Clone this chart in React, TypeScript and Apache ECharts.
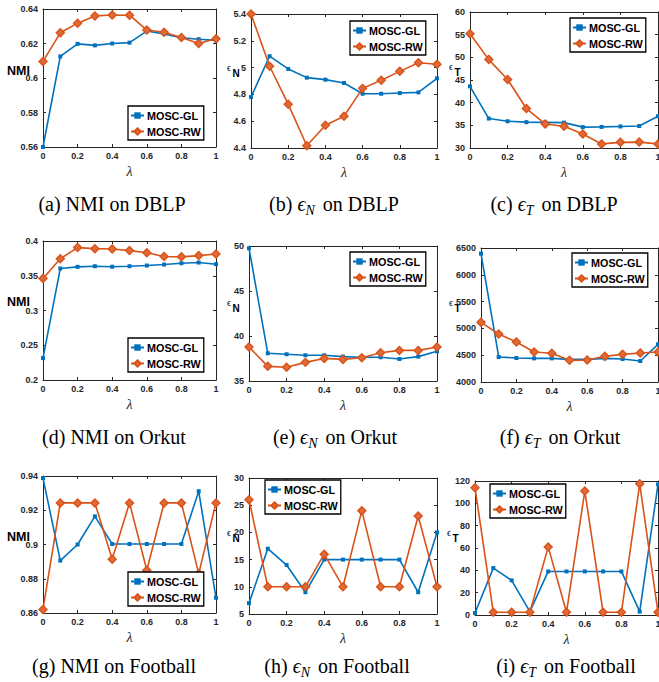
import React, { useEffect, useRef } from 'react';
import * as echarts from 'echarts';

const lambda = [0, 0.1, 0.2, 0.3, 0.4, 0.5, 0.6, 0.7, 0.8, 0.9, 1];

const nmiDblpGL = [0.56, 0.6125, 0.6198, 0.6189, 0.62, 0.6205, 0.6272, 0.6255, 0.6233, 0.6225, 0.6218];
const nmiDblpRW = [0.6096, 0.6262, 0.6318, 0.636, 0.6365, 0.6364, 0.6278, 0.6265, 0.6235, 0.62, 0.6228];

const enDblpGL = [4.78, 5.085, 4.99, 4.925, 4.91, 4.885, 4.805, 4.805, 4.81, 4.815, 4.92];
const enDblpRW = [5.4, 5.01, 4.727, 4.417, 4.57, 4.637, 4.845, 4.905, 4.972, 5.036, 5.025];

const etDblpGL = [43.6, 36.5, 35.9, 35.7, 35.65, 35.6, 34.6, 34.65, 34.75, 34.85, 37.0];
const etDblpRW = [55.2, 49.5, 45.1, 38.7, 35.3, 34.8, 33.1, 30.9, 31.25, 31.3, 30.9];

const nmiOrkutGL = [0.2315, 0.3605, 0.3628, 0.3637, 0.363, 0.3637, 0.3647, 0.3661, 0.368, 0.369, 0.3666];
const nmiOrkutRW = [0.346, 0.3745, 0.3905, 0.389, 0.3885, 0.3862, 0.383, 0.3778, 0.3772, 0.379, 0.3812];

const enOrkutGL = [49.75, 38.08, 37.97, 37.86, 37.86, 37.71, 37.64, 37.64, 37.45, 37.71, 38.3];
const enOrkutRW = [38.78, 36.63, 36.52, 37.07, 37.51, 37.4, 37.59, 38.14, 38.4, 38.4, 38.77];

const etOrkutGL = [6395, 4467, 4448, 4441, 4441, 4423, 4423, 4441, 4429, 4392, 4703];
const etOrkutRW = [5113, 4896, 4746, 4560, 4535, 4404, 4410, 4479, 4516, 4541, 4560];

const nmiFootGL = [0.9388, 0.8906, 0.9, 0.9164, 0.9003, 0.9003, 0.9003, 0.9003, 0.9003, 0.9311, 0.8689];
const nmiFootRW = [0.8621, 0.9243, 0.9243, 0.9243, 0.8914, 0.9243, 0.885, 0.9243, 0.9243, 0.883, 0.9243];

const enFootGL = [7, 17, 14, 9, 15, 15, 15, 15, 15, 9, 20];
const enFootRW = [26, 10, 10, 10, 16, 10, 24, 10, 10, 23, 10];

const etFootGL = [1.8, 42, 31, 3, 39, 39, 39, 39, 39, 3, 117];
const etFootRW = [114, 2.4, 2.4, 2.4, 61, 2.4, 111, 2.4, 2.4, 117.5, 2.4];

const seriesNames = ['MOSC-GL', 'MOSC-RW'];

const BLUE = '#0072BD';
const ORANGE = '#D95319';
const AX = '#262626';
const SANS = '"Liberation Sans", Arial, Helvetica, sans-serif';
const SERIF = '"Liberation Serif", "Times New Roman", serif';

type Panel = {
  grid: { left: number; top: number; width: number; height: number };
  min: number;
  max: number;
  interval: number;
  gl: number[];
  rw: number[];
  yKind: 'NMI' | 'N' | 'T';
  nameX: number;
  nameY: number;
  legend: { left: number; top: number };
  letter: string;
  dataset: string;
  capX: number;
  capY: number;
};

const panels: Panel[] = [
  { grid: { left: 43, top: 9, width: 173, height: 138 }, min: 0.56, max: 0.64, interval: 0.02, gl: nmiDblpGL, rw: nmiDblpRW, yKind: 'NMI', nameX: 30, nameY: 71, legend: { left: 128, top: 106 }, letter: 'a', dataset: 'DBLP', capX: 112, capY: 204 },
  { grid: { left: 251, top: 14, width: 186, height: 134 }, min: 4.4, max: 5.4, interval: 0.2, gl: enDblpGL, rw: enDblpRW, yKind: 'N', nameX: 227, nameY: 67, legend: { left: 350, top: 21 }, letter: 'b', dataset: 'DBLP', capX: 334, capY: 204 },
  { grid: { left: 470, top: 12, width: 188, height: 136 }, min: 30, max: 60, interval: 5, gl: etDblpGL, rw: etDblpRW, yKind: 'T', nameX: 449, nameY: 66, legend: { left: 570, top: 18 }, letter: 'c', dataset: 'DBLP', capX: 554, capY: 204 },
  { grid: { left: 43, top: 241, width: 173, height: 139 }, min: 0.2, max: 0.4, interval: 0.05, gl: nmiOrkutGL, rw: nmiOrkutRW, yKind: 'NMI', nameX: 30, nameY: 302, legend: { left: 128, top: 338 }, letter: 'd', dataset: 'Orkut', capX: 114, capY: 437 },
  { grid: { left: 249, top: 246, width: 188, height: 135 }, min: 35, max: 50, interval: 5, gl: enOrkutGL, rw: enOrkutRW, yKind: 'N', nameX: 227, nameY: 302, legend: { left: 350, top: 252 }, letter: 'e', dataset: 'Orkut', capX: 335, capY: 437 },
  { grid: { left: 481, top: 248, width: 177, height: 134 }, min: 4000, max: 6500, interval: 500, gl: etOrkutGL, rw: etOrkutRW, yKind: 'T', nameX: 449, nameY: 302, legend: { left: 572, top: 253 }, letter: 'f', dataset: 'Orkut', capX: 560, capY: 437 },
  { grid: { left: 43, top: 476, width: 173, height: 137 }, min: 0.86, max: 0.94, interval: 0.02, gl: nmiFootGL, rw: nmiFootRW, yKind: 'NMI', nameX: 30, nameY: 537, legend: { left: 128, top: 572 }, letter: 'g', dataset: 'Football', capX: 114, capY: 666 },
  { grid: { left: 249, top: 478, width: 188, height: 136 }, min: 5, max: 30, interval: 5, gl: enFootGL, rw: enFootRW, yKind: 'N', nameX: 227, nameY: 532, legend: { left: 265, top: 480 }, letter: 'h', dataset: 'Football', capX: 337, capY: 666 },
  { grid: { left: 475, top: 481, width: 183, height: 134 }, min: 0, max: 120, interval: 20, gl: etFootGL, rw: etFootRW, yKind: 'T', nameX: 447, nameY: 532, legend: { left: 490, top: 484 }, letter: 'i', dataset: 'Football', capX: 566, capY: 666 },
];

const fmt = (v: number) => String(parseFloat(Number(v).toFixed(4)));

function buildOption() {
  const grid: any[] = [];
  const xAxis: any[] = [];
  const yAxis: any[] = [];
  const series: any[] = [];
  const legend: any[] = [];
  const graphic: any[] = [];

  panels.forEach((p, i) => {
    grid.push({ ...p.grid, containLabel: false, outerBoundsMode: 'none', show: false });
    const tick = { show: true, inside: true, length: 3, lineStyle: { color: AX, width: 1 } };
    const line = { show: true, onZero: false, lineStyle: { color: AX, width: 1 } };
    const label = { show: true, color: AX, fontSize: 9, fontWeight: 'bold', fontFamily: SANS, formatter: fmt };
    xAxis.push({
      type: 'value', gridIndex: i, position: 'bottom', min: 0, max: 1, interval: 0.2,
      axisLine: line, axisTick: tick, splitLine: { show: false },
      axisLabel: { ...label, margin: 4 },
      name: 'λ', nameLocation: 'middle', nameGap: 17,
      nameTextStyle: { color: AX, fontFamily: SERIF, fontSize: 14, fontStyle: 'italic' },
    });
    xAxis.push({
      type: 'value', gridIndex: i, position: 'top', min: 0, max: 1, interval: 0.2,
      axisLine: line, axisTick: tick, splitLine: { show: false }, axisLabel: { show: false },
    });
    yAxis.push({
      type: 'value', gridIndex: i, position: 'left', min: p.min, max: p.max, interval: p.interval,
      axisLine: line, axisTick: tick, splitLine: { show: false },
      axisLabel: { ...label, margin: 5 },
    });
    yAxis.push({
      type: 'value', gridIndex: i, position: 'right', min: p.min, max: p.max, interval: p.interval,
      axisLine: line, axisTick: tick, splitLine: { show: false }, axisLabel: { show: false },
    });
    series.push({
      type: 'line', name: seriesNames[0], xAxisIndex: 2 * i, yAxisIndex: 2 * i,
      data: lambda.map((x, j) => [x, p.gl[j]]),
      symbol: 'rect', symbolSize: 4,
      lineStyle: { color: BLUE, width: 1.6 }, itemStyle: { color: BLUE },
      clip: false, z: 2,
    });
    series.push({
      type: 'line', name: seriesNames[1], xAxisIndex: 2 * i, yAxisIndex: 2 * i,
      data: lambda.map((x, j) => [x, p.rw[j]]),
      symbol: 'diamond', symbolSize: 8,
      lineStyle: { color: ORANGE, width: 1.6 },
      itemStyle: { color: '#E06A38', borderColor: ORANGE, borderWidth: 1.4 },
      clip: false, z: 3,
    });
    legend.push({
      show: true, left: p.legend.left, top: p.legend.top, orient: 'vertical',
      data: seriesNames, backgroundColor: '#fff', borderColor: '#000', borderWidth: 1.3,
      padding: [4, 3, 3, 2], itemGap: 5, itemWidth: 13, itemHeight: 8, borderRadius: 0,
      textStyle: { color: '#000', fontSize: 10.8, fontWeight: 'bold', fontFamily: SANS, padding: [0, 0, 0, -2] },
      selectedMode: false, z: 10,
    });

    if (p.yKind === 'NMI') {
      graphic.push({
        type: 'text', x: p.nameX, y: p.nameY,
        style: { text: 'NMI', align: 'right', verticalAlign: 'middle', fill: '#000', fontSize: 12.5, fontWeight: 'bold', fontFamily: SANS },
      });
    } else {
      graphic.push({
        type: 'text', x: p.nameX, y: p.nameY,
        style: { text: 'ϵ', align: 'left', verticalAlign: 'middle', fill: '#000', fontSize: 10, fontFamily: SERIF },
      });
      graphic.push({
        type: 'text', x: p.nameX + 5.5, y: p.nameY + 6.5,
        style: { text: p.yKind, align: 'left', verticalAlign: 'middle', fill: '#000', fontSize: 10, fontWeight: 'bold', fontFamily: SANS },
      });
    }

    const capText = p.yKind === 'NMI'
      ? `{t|(${p.letter}) NMI on ${p.dataset}}`
      : `{t|(${p.letter}) }{e|ϵ}{s|${p.yKind}}{t| on ${p.dataset}}`;
    graphic.push({
      type: 'text', x: p.capX, y: p.capY,
      style: {
        text: capText, align: 'center', verticalAlign: 'middle', fill: '#000',
        fontFamily: SERIF, fontSize: 20,
        rich: {
          t: { fontFamily: SERIF, fontSize: 20, lineHeight: 26, verticalAlign: 'middle', fill: '#000' },
          e: { fontFamily: SERIF, fontSize: 20, fontStyle: 'italic', lineHeight: 26, verticalAlign: 'middle', fill: '#000' },
          s: { fontFamily: SERIF, fontSize: 14, fontStyle: 'italic', lineHeight: 14, verticalAlign: 'bottom', fill: '#000', padding: [0, 3, 0, 0] },
        },
      },
    });
  });

  return {
    animation: false,
    backgroundColor: '#fff',
    grid, xAxis, yAxis, series, legend, graphic,
  };
}

export default function App() {
  const ref = useRef<HTMLDivElement>(null);
  useEffect(() => {
    document.body.style.margin = '0';
    if (!ref.current) return;
    const chart = echarts.init(ref.current, undefined, { renderer: 'svg' });
    chart.setOption(buildOption() as any);
    return () => chart.dispose();
  }, []);
  return <div ref={ref} style={{ width: 659, height: 682 }} />;
}
